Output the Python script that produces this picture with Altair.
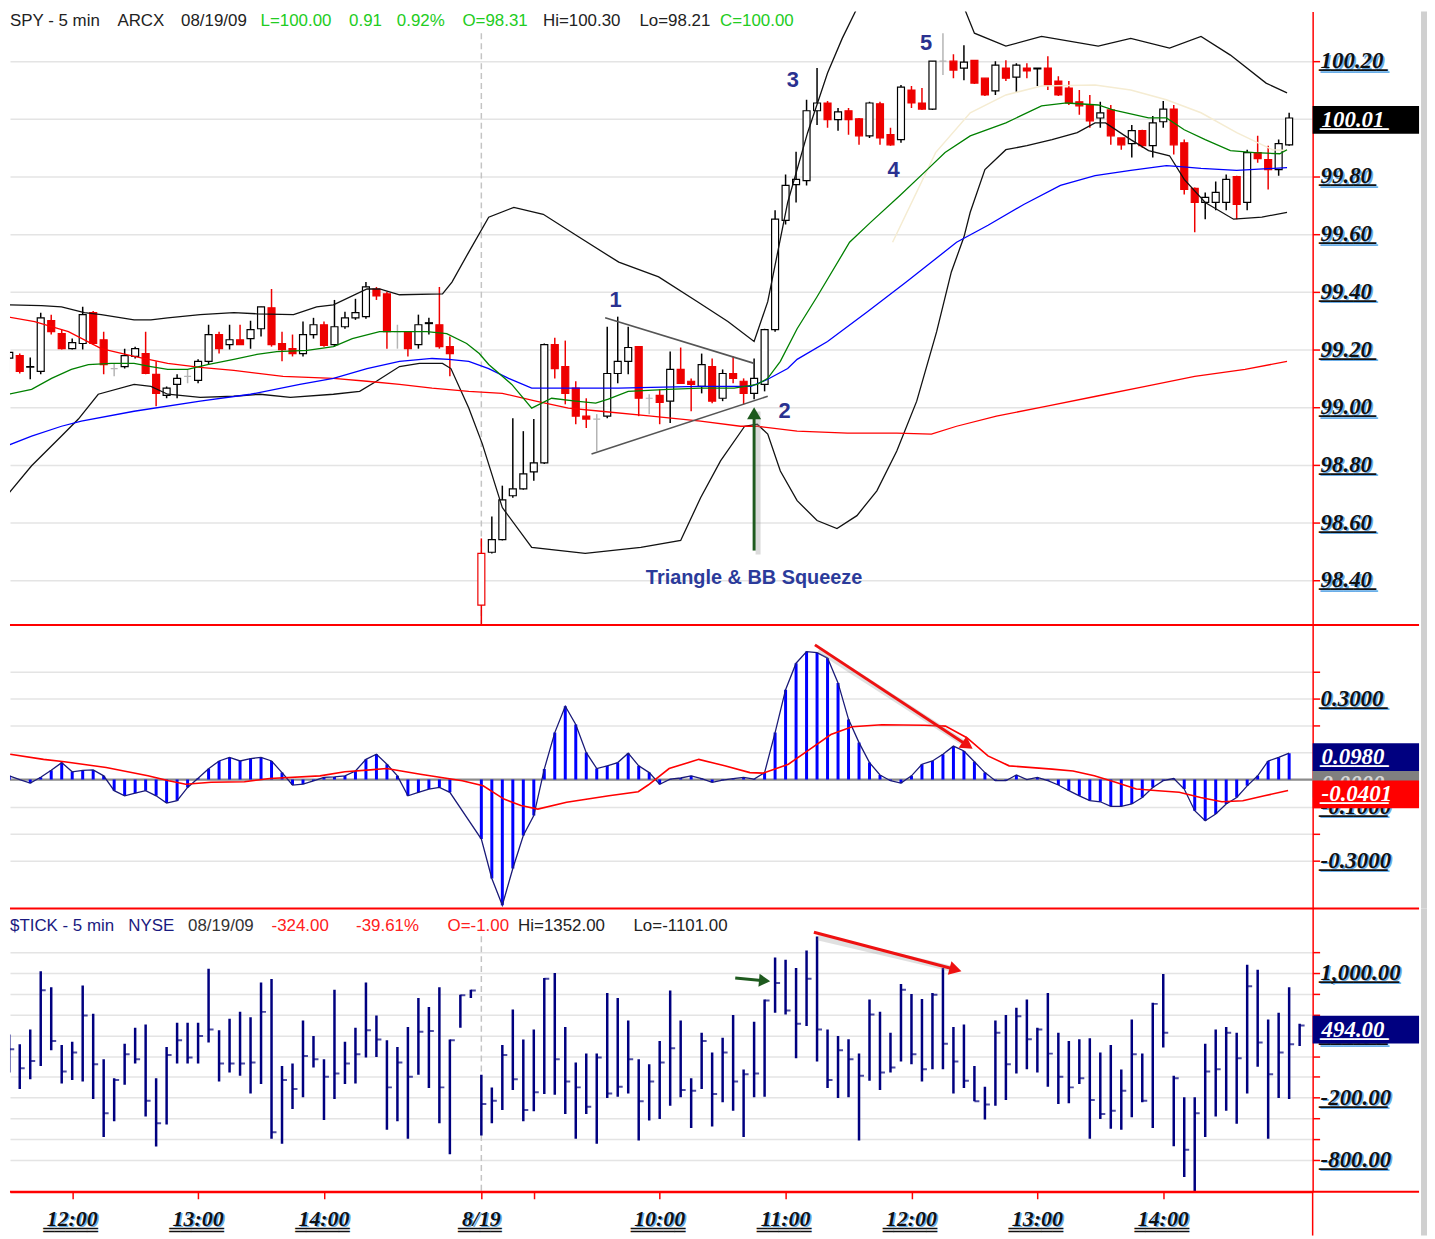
import altair as alt
import pandas as pd

# ---------------- data ----------------
# bar index: 0 = 11:30 on 08/18 ; 45 = first bar of 08/19 (08:35) ; 5-minute bars
bar_open = [99.17, 99.179, 99.139, 99.124, 99.30, 99.255, 99.203, 99.221, 99.328, 99.234,
            99.134, 99.141, 99.176, 99.186, 99.114, 99.041, 99.079, 99.107, 99.093, 99.159,
            99.252, 99.217, 99.234, 99.238, 99.272, 99.345, 99.221, 99.203, 99.186, 99.252,
            99.286, 99.217, 99.279, 99.31, 99.314, 99.41, 99.393, 99.262, 99.262, 99.217,
            99.29, 99.286, 99.21, None, None, 98.314, 98.497, 98.541, 98.693, 98.717,
            98.776, 98.807, 99.217, 99.141, 99.066, 98.969, 98.959, 98.969, 99.117, 99.159,
            99.21, 99.031, 99.041, 99.021, 99.131, 99.09, 99.072, 99.141, 99.031, 99.117,
            99.09, 99.048, 99.079, 99.269, 99.648, 99.772, 99.786, 100.028, 100.055, 99.997,
            100.028, 100.0, 99.941, 100.052, 99.945, 99.928, 100.10, 100.055, 100.034, 100.20,
            100.20, 100.176, 100.203, 100.141, 100.097, 100.176, 100.145, 100.176, 100.173, 100.176,
            100.131, 100.107, 100.059, 100.048, 100.003, 100.031, 99.934, 99.914, 99.959, 99.907,
            99.99, 100.034, 99.917, 99.759, 99.71, 99.71, 99.71, 99.80, 99.71, 99.883,
            99.859, 99.824, 99.91]
bar_high = [99.19, 99.186, 99.172, 99.328, 99.321, 99.269, 99.238, 99.348, 99.334, 99.262,
            99.152, 99.203, 99.21, 99.262, 99.159, 99.072, 99.114, 99.131, 99.166, 99.286,
            99.262, 99.286, 99.286, 99.30, 99.348, 99.41, 99.262, 99.252, 99.297, 99.31,
            99.297, 99.372, 99.331, 99.376, 99.434, 99.417, 99.40, 99.286, 99.262, 99.321,
            99.31, 99.417, 99.245, None, None, 98.545, 98.621, 98.728, 98.962, 98.917,
            98.959, 99.221, 99.241, 99.231, 99.09, 99.031, 98.976, 99.279, 99.314, 99.279,
            99.21, 99.045, 99.062, 99.193, 99.207, 99.10, 99.186, 99.169, 99.131, 99.176,
            99.10, 99.169, 99.272, 99.683, 99.807, 99.886, 100.066, 100.176, 100.062, 100.038,
            100.038, 100.003, 100.059, 100.059, 99.969, 100.117, 100.114, 100.107, 100.20, 100.297,
            100.224, 100.255, 100.203, 100.141, 100.20, 100.203, 100.193, 100.193, 100.176, 100.217,
            100.148, 100.131, 100.10, 100.083, 100.059, 100.048, 99.934, 99.979, 99.962, 100.01,
            100.062, 100.048, 99.928, 99.762, 99.745, 99.783, 99.807, 99.803, 99.893, 99.941,
            99.907, 99.928, 100.021]
bar_low = [99.12, 99.117, 99.097, 99.114, 99.252, 99.20, 99.20, 99.20, 99.217, 99.114,
           99.107, 99.134, 99.169, 99.114, 99.003, 99.031, 99.031, 99.083, 99.083, 99.148,
           99.186, 99.20, 99.217, 99.203, 99.245, 99.21, 99.159, 99.176, 99.176, 99.238,
           99.21, 99.21, 99.272, 99.303, 99.307, 99.372, 99.203, 99.203, 99.176, 99.203,
           99.252, 99.203, 99.107, None, None, 98.21, 98.493, 98.538, 98.686, 98.714,
           98.745, 98.803, 99.10, 99.01, 98.941, 98.928, 98.848, 98.962, 99.083, 99.114,
           98.969, 98.976, 98.941, 98.945, 99.083, 98.986, 99.048, 99.014, 99.021, 99.083,
           99.01, 99.028, 99.055, 99.262, 99.634, 99.71, 99.769, 99.979, 99.969, 99.959,
           99.945, 99.91, 99.934, 99.91, 99.907, 99.917, 100.038, 100.031, 100.031, 100.152,
           100.141, 100.134, 100.121, 100.079, 100.083, 100.131, 100.09, 100.141, 100.114, 100.10,
           100.079, 100.048, 100.014, 99.969, 99.969, 99.91, 99.893, 99.866, 99.90, 99.866,
           99.969, 99.876, 99.738, 99.607, 99.652, 99.683, 99.683, 99.652, 99.683, 99.848,
           99.755, 99.803, 99.907]
bar_close = [99.19, 99.124, 99.141, 99.31, 99.262, 99.203, 99.224, 99.321, 99.221, 99.148,
             99.134, 99.179, 99.203, 99.117, 99.048, 99.066, 99.10, 99.107, 99.159, 99.252,
             99.203, 99.234, 99.217, 99.269, 99.348, 99.217, 99.20, 99.186, 99.252, 99.286,
             99.214, 99.279, 99.31, 99.328, 99.417, 99.386, 99.262, 99.262, 99.203, 99.286,
             99.293, 99.21, 99.186, None, None, 98.493, 98.541, 98.679, 98.717, 98.769,
             98.807, 99.217, 99.134, 99.048, 98.969, 98.959, 98.959, 99.117, 99.159, 99.207,
             99.031, 99.031, 99.017, 99.131, 99.083, 99.079, 99.148, 99.021, 99.117, 99.10,
             99.048, 99.10, 99.269, 99.652, 99.769, 99.79, 100.028, 100.055, 99.997, 100.024,
             99.997, 99.941, 100.055, 99.934, 99.91, 100.11, 100.055, 100.034, 100.20, 100.20,
             100.169, 100.197, 100.124, 100.083, 100.186, 100.141, 100.186, 100.166, 100.176, 100.117,
             100.083, 100.055, 100.045, 99.993, 100.021, 99.941, 99.91, 99.959, 99.907, 99.986,
             100.034, 99.91, 99.755, 99.71, 99.728, 99.745, 99.79, 99.703, 99.883, 99.862,
             99.824, 99.914, 100.003]

# Bollinger bands and moving averages: (bar index, price) readings
bb_up_i = [0.05, 3.08, 4.98, 7.16, 8.77, 11.9, 13.5, 15.1, 18.2, 21.4, 23.6, 27.1, 29.3, 30.9,
           34.1, 35.3, 37.2, 41.3, 42.2, 43.8, 45.7, 48.1, 50.9, 54.3, 58.1, 61.9, 65.6, 68.5,
           71.0, 72.3, 74.2, 76.1, 78.0, 79.4, 80.8, 83.7, 87.4, 90.3, 92.0, 95.0, 98.4, 103.8,
           106.9, 110.6, 113.6, 116.4, 119.8, 121.8]
bb_up_v = [99.355, 99.352, 99.348, 99.328, 99.321, 99.303, 99.303, 99.31, 99.321, 99.328, 99.324,
           99.321, 99.348, 99.355, 99.41, 99.41, 99.39, 99.393, 99.434, 99.538, 99.659, 99.693,
           99.669, 99.59, 99.503, 99.452, 99.366, 99.297, 99.228, 99.366, 99.71, 99.952, 100.159,
           100.279, 100.383, 100.55, 100.60, 100.45, 100.297, 100.252, 100.286, 100.252, 100.279,
           100.245, 100.286, 100.221, 100.124, 100.09]
bb_lo_i = [-0.24, 2.13, 4.98, 6.59, 8.48, 11.9, 13.5, 15.1, 18.2, 21.4, 23.9, 26.8, 30.9, 33.4,
           35.0, 37.2, 39.1, 41.3, 42.1, 43.8, 45.1, 47.0, 49.8, 54.9, 60.2, 64.0, 65.9, 67.8,
           70.1, 71.3, 72.3, 73.5, 75.1, 77.0, 78.9, 80.8, 82.7, 84.6, 86.5, 88.4, 89.8, 91.0,
           91.6, 93.0, 95.0, 97.0, 99.4, 101.8, 103.5, 104.5, 106.9, 108.6, 110.6, 112.0, 114.0,
           116.7, 119.4, 121.8]
bb_lo_v = [98.693, 98.797, 98.90, 98.959, 99.045, 99.079, 99.072, 99.045, 99.034, 99.038, 99.045,
           99.034, 99.045, 99.055, 99.09, 99.141, 99.152, 99.152, 99.134, 98.997, 98.872, 98.652,
           98.514, 98.493, 98.514, 98.538, 98.686, 98.814, 98.934, 98.941, 98.907, 98.779, 98.676,
           98.607, 98.579, 98.624, 98.71, 98.848, 99.021, 99.262, 99.469, 99.59, 99.676, 99.824,
           99.893, 99.907, 99.928, 99.952, 99.986, 99.986, 99.928, 99.89, 99.872, 99.79, 99.71,
           99.652, 99.659, 99.676]
ma_green_i = [-0.05, 2.13, 4.03, 5.92, 7.54, 9.72, 11.9, 13.5, 15.1, 17.0, 18.9, 21.4, 23.6, 25.5,
              28.4, 30.9, 32.7, 35.3, 37.2, 39.8, 41.7, 43.6, 44.8, 45.7, 47.9, 49.8, 51.7, 54.0,
              55.9, 57.1, 59.0, 62.8, 65.9, 69.1, 71.3, 72.3, 73.5, 75.1, 77.0, 80.1, 82.1, 84.9,
              87.5, 89.2, 91.6, 95.0, 98.4, 100.8, 103.8, 105.2, 108.6, 110.3, 112.0, 114.0, 116.4,
              118.7, 121.1, 121.8]
ma_green_v = [99.045, 99.062, 99.10, 99.131, 99.148, 99.152, 99.152, 99.141, 99.131, 99.131, 99.148,
              99.166, 99.183, 99.193, 99.197, 99.21, 99.238, 99.262, 99.262, 99.262, 99.255, 99.221,
              99.186, 99.148, 99.079, 98.997, 99.031, 99.021, 99.014, 99.028, 99.055, 99.062, 99.066,
              99.066, 99.079, 99.10, 99.159, 99.272, 99.383, 99.572, 99.641, 99.734, 99.824, 99.883,
              99.941, 99.986, 100.045, 100.055, 100.048, 100.031, 100.003, 100.003, 99.962, 99.928,
              99.89, 99.883, 99.879, 99.893]
ma_blue_i = [-0.24, 2.13, 4.98, 6.87, 11.9, 18.2, 23.0, 27.7, 30.9, 34.1, 37.2, 40.3, 41.9, 43.8,
             45.7, 47.6, 49.8, 53.3, 58.1, 61.2, 65.9, 70.7, 72.3, 74.2, 75.1, 78.0, 81.8, 85.5,
             90.3, 93.3, 96.7, 100.2, 103.5, 106.9, 110.3, 111.6, 113.6, 117.0, 121.8]
ma_blue_v = [98.866, 98.90, 98.934, 98.952, 98.986, 99.021, 99.045, 99.079, 99.10, 99.134, 99.159,
             99.169, 99.166, 99.159, 99.134, 99.10, 99.066, 99.066, 99.066, 99.069, 99.072, 99.072,
             99.097, 99.134, 99.166, 99.228, 99.331, 99.434, 99.572, 99.631, 99.703, 99.769, 99.803,
             99.821, 99.838, 99.834, 99.828, 99.821, 99.831]
ma_red_i = [-0.24, 2.42, 5.64, 8.77, 11.9, 15.1, 18.2, 21.4, 26.1, 30.9, 34.1, 37.2, 40.3, 43.8,
            47.0, 50.2, 53.3, 56.4, 61.2, 65.9, 69.7, 71.3, 75.1, 79.9, 84.6, 87.9, 90.3, 94.1,
            98.8, 103.6, 108.3, 113.0, 117.8, 121.8]
ma_red_v = [99.314, 99.297, 99.262, 99.203, 99.176, 99.152, 99.138, 99.128, 99.107, 99.10, 99.09,
            99.079, 99.066, 99.055, 99.048, 99.021, 98.997, 98.986, 98.969, 98.952, 98.934, 98.934,
            98.917, 98.91, 98.91, 98.907, 98.934, 98.969, 99.003, 99.038, 99.072, 99.107, 99.131,
            99.159]
ma_pale_i = [84.2, 88.3, 91.6, 95.0, 98.4, 103.5, 106.9, 110.3, 113.6, 117.0, 120.4, 121.8]
ma_pale_v = [99.572, 99.883, 100.021, 100.083, 100.114, 100.117, 100.10, 100.066, 100.021, 99.952,
             99.893, 99.89]

# oscillator histogram (one value per bar; none for the two after-hours bars)
osc_hist = [0.014, 0.0, -0.013, 0.009, 0.035, 0.063, 0.029, 0.034, 0.036, 0.014,
            -0.041, -0.06, -0.05, -0.041, -0.06, -0.087, -0.078, -0.029, 0.005, 0.04,
            0.069, 0.082, 0.069, 0.078, 0.082, 0.069, 0.026, -0.02, -0.017, -0.005,
            0.008, 0.01, 0.014, 0.032, 0.075, 0.094, 0.057, 0.014, -0.06, -0.047,
            -0.035, -0.029, -0.047, None, None, -0.22, -0.366, -0.465, -0.329, -0.207,
            -0.133, 0.039, 0.174, 0.272, 0.204, 0.10, 0.041, 0.051, 0.063, 0.098,
            0.051, 0.026, -0.017, 0.002, 0.006, 0.014, 0.004, -0.01, -0.002, 0.004,
            0.008, 0.002, 0.026, 0.174, 0.333, 0.431, 0.474, 0.47, 0.45, 0.358,
            0.223, 0.137, 0.063, 0.017, -0.004, -0.013, 0.014, 0.057, 0.069, 0.094,
            0.124, 0.106, 0.066, 0.026, -0.004, -0.004, 0.017, 0.0, 0.008, -0.004,
            -0.02, -0.041, -0.06, -0.078, -0.082, -0.099, -0.099, -0.09, -0.066, -0.029,
            -0.004, 0.004, -0.035, -0.115, -0.152, -0.127, -0.09, -0.066, -0.023, 0.014,
            0.069, 0.082, 0.098]
osc_sig_i = [0.09, 3.27, 5.26, 9.24, 13.22, 15.2, 16.82, 19.24, 22.42, 24.83, 29.62, 31.99, 34.41,
             35.97, 39.19, 43.18, 45.17, 47.16, 48.77, 50.38, 53.13, 57.16, 59.95, 60.9, 62.9,
             65.73, 68.2, 70.6, 71.84, 74.27, 76.3, 78.32, 80.33, 83.18, 87.23, 89.24, 91.28,
             93.29, 95.31, 99.4, 101.4, 103.43, 105.45, 107.44, 109.53, 111.52, 113.56, 115.59,
             117.58, 119.64, 121.9]
osc_sig_v = [0.094, 0.075, 0.066, 0.045, 0.014, -0.004, -0.017, -0.01, -0.008, 0.004, 0.014, 0.029,
             0.036, 0.041, 0.02, -0.004, -0.023, -0.072, -0.096, -0.109, -0.084, -0.06, -0.045,
             -0.02, 0.041, 0.075, 0.051, 0.026, 0.024, 0.057, 0.112, 0.167, 0.196, 0.203, 0.201,
             0.198, 0.155, 0.088, 0.051, 0.039, 0.032, 0.014, -0.01, -0.035, -0.041, -0.047,
             -0.066, -0.082, -0.078, -0.06, -0.0401]

# $TICK bars (bar index 0..123)
tick_high = [409, 314, 457, 1016, 863, 307, 339, 879, 607, 170, -12, 320, 473, 505, -12, 288,
             521, 521, 521, 1041, 448, 559, 626, 575, 910, 942, 106, 128, 543, 393, 170, 840,
             339, 473, 910, 591, 352, 288, 480, 760, 674, 863, 361, 792, 840, 20, -101, 307,
             649, 361, 457, 952, 1000, 480, 138, 224, 224, 808, 760, 543, 170, 122, 346, 831,
             544, -12, 425, 234, 377, 595, 72, 531, 745, 1150, 1128, 1048, 1217, 1351, 457, 393,
             362, 224, 745, 626, 425, 895, 799, 751, 808, 1048, 480, 505, 106, -95, 544, 595,
             665, 745, 473, 808, 425, 346, 362, 371, 234, 307, 72, 553, 224, 713, 990, 10,
             -197, -197, 320, 457, 480, 425, 1080, 1032, 553, 617, 863, 512]
tick_low = [42, -117, -22, 106, 256, -63, -31, -44, -213, -580, -427, -76, 128, -382, -670, -459,
            128, 128, 128, 330, -44, 42, 10, -159, -69, -596, -644, -309, -197, 90, -414, -213,
            -69, -63, 186, 192, -510, -427, -596, 20, -108, -446, -746, 473, 760, -564, -446,
            -318, -127, -427, -331, -165, -172, -357, -596, -357, -644, -204, -191, -159, -612,
            -421, -405, -277, -197, -491, -117, -478, -245, -325, -580, -197, -191, 617, 601, 180,
            489, 148, -108, -203, -197, -612, -37, -127, 42, 148, 122, -44, 74, 74, -159, -108,
            -235, -411, -277, -223, 33, 74, 42, -95, -261, -255, -69, -596, -405, -500, -510,
            -389, -245, -491, 282, -669, -963, -1101, -580, -382, -325, -452, -159, 97, -596,
            -203, -213, 298]
tick_close = [266, 84, 154, 834, 345, 52, 234, 591, 122, -350, -31, 218, 170, -229, -446, 211,
              352, 186, 393, 457, 128, 128, 128, 138, 626, -532, -31, -117, 202, 170, 1, 33,
              128, 218, 448, 361, -101, 138, 1, 435, 441, -101, 352, 786, 831, -261, -229, 211,
              -22, -318, -149, 946, 170, -44, -101, -287, 186, -159, -95, 170, -235, -44, 138,
              275, -127, -133, 346, -165, 234, -44, 26, 33, 735, 904, 639, 512, 946, 457, -31,
              256, 170, 10, 601, 42, 90, 840, 218, 74, 792, 320, 148, -37, -235, -267, 425, 122,
              585, 362, 457, 224, 1, -101, -12, -223, -357, -325, -133, 218, -229, 703, 425, -12,
              -701, -350, 52, 74, 425, 180, 872, 330, 26, 234, 314, 494]

x_tick_pos = [6, 18, 30, 45, 50, 62, 74, 86, 98, 110]
x_tick_lab = ["12:00", "13:00", "14:00", "8/19", "", "10:00", "11:00", "12:00", "13:00", "14:00"]
price_ticks = [98.4, 98.6, 98.8, 99.0, 99.2, 99.4, 99.6, 99.8, 100.0, 100.2]
osc_grid = [-0.3, -0.2, -0.1, 0.0, 0.1, 0.2, 0.3, 0.4]
osc_label_vals = [0.3, 0.1, -0.1, -0.3]
tick_grid = [-800, -600, -400, -200, 0, 200, 400, 600, 800, 1000, 1200]
tick_label_vals = [1000, 400, -200, -800]
day_start = 45

# annotations
tri_i, tri_i2 = [56.8, 55.5], [71.0, 72.3]
tri_v, tri_v2 = [99.310, 98.838], [99.152, 99.038]
wave_txt = ["1", "2", "3", "4", "5"]
wave_i = [57.8, 73.9, 74.7, 84.3, 87.4]
wave_v = [99.372, 98.986, 100.134, 99.824, 100.262]
squeeze_txt = "Triangle & BB Squeeze"
squeeze_at = (71.0, 98.407)
last_price = 100.01
last_osc = 0.0980
last_sig = -0.0401
last_tick = 494.0

# ---------------- chart ----------------
W = 1310
H1, H2, H3 = 617, 285, 285
RED = "#ff0000"
SERIF = "Liberation Serif"
SANS = "Liberation Sans"
LFS = 23  # axis label font size
SHADOW = "#6aaee8"

XS = alt.Scale(domain=[0.07, 124.24], nice=False, zero=False, padding=0)
PS = alt.Scale(domain=[98.2448, 100.3724], nice=False, zero=False, padding=0)
MS = alt.Scale(domain=[-0.4767, 0.5724], nice=False, zero=False, padding=0)
TS = alt.Scale(domain=[-1106.5, 1622.4], nice=False, zero=False, padding=0)


def yaxis(vals):
    return alt.Axis(orient="right", values=vals, labels=False, ticks=True, tickColor=RED,
                    tickSize=7, tickWidth=1.5, domain=True, domainColor=RED, domainWidth=1.5,
                    grid=True, gridColor="#e4e4e4", gridWidth=1.5, title=None)


PA, MA, TA = yaxis(price_ticks), yaxis(osc_grid), yaxis(tick_grid)
XA_bottom = alt.Axis(values=x_tick_pos, labels=False, ticks=True, tickColor=RED, tickSize=7,
                     tickWidth=1.5, domainColor=RED, domainWidth=2, grid=False, title=None)


def X(f="i", bottom=False):
    return alt.X(f"{f}:Q", scale=XS, axis=XA_bottom if bottom else None)


def PY(f):
    return alt.Y(f"{f}:Q", scale=PS, axis=PA)


def MY(f):
    return alt.Y(f"{f}:Q", scale=MS, axis=MA)


def TY(f):
    return alt.Y(f"{f}:Q", scale=TS, axis=TA)


dummy = pd.DataFrame({"a": [0]})


def htext(txt, x, y, color, size=17, font=SANS, weight="normal"):
    return alt.Chart(dummy).mark_text(text=txt, align="left", baseline="middle", font=font,
                                      fontSize=size, color=color, fontWeight=weight).encode(
        x=alt.value(x), y=alt.value(y))


def und_of(s):
    n = sum(c.isdigit() for c in s) + 0.5 * sum(c in ".,:/" for c in s) + 0.67 * s.count("-")
    return "_" * int(n + 0.5)


LBL = dict(baseline="middle", font=SERIF, fontStyle="italic", fontWeight="bold", fontSize=LFS)


def label_layers(vals, fmt, YF):
    df = pd.DataFrame({"v": vals})
    df["lab"] = [fmt(v) for v in vals]
    df["und"] = [und_of(s) for s in df["lab"]]
    out = []
    for col in ("lab", "und"):
        out.append(alt.Chart(df).mark_text(align="left", color=SHADOW, dx=1.5, dy=1.5, **LBL).encode(
            x=alt.value(W + 8), y=YF("v"), text=f"{col}:N"))
    for col in ("lab", "und"):
        out.append(alt.Chart(df).mark_text(align="left", color="#111111", **LBL).encode(
            x=alt.value(W + 8), y=YF("v"), text=f"{col}:N"))
    return out


def value_box(val, txt, fill, YF, tcolor="white"):
    df = pd.DataFrame({"v": [val], "lab": [txt], "und": [und_of(txt)]})
    box = alt.Chart(df).mark_rect(color=fill, yOffset=-10, y2Offset=18).encode(
        x=alt.value(W), x2=alt.value(W + 107), y=YF("v"), y2=alt.Y2("v"))
    t = alt.Chart(df).mark_text(align="left", color=tcolor, dy=4, **LBL).encode(
        x=alt.value(W + 9), y=YF("v"), text="lab:N")
    u = alt.Chart(df).mark_text(align="left", color=tcolor, dy=4, **LBL).encode(
        x=alt.value(W + 9), y=YF("v"), text="und:N")
    return [box, t, u]


def sep_rules(H, extra=0):
    r1 = alt.Chart(dummy).mark_rect(color=RED).encode(
        x=alt.value(0), x2=alt.value(W + 107), y=alt.value(H - 1), y2=alt.value(H + 1))
    r2 = alt.Chart(dummy).mark_rect(color="#d0d0d0").encode(
        x=alt.value(W + 109), x2=alt.value(W + 115), y=alt.value(0), y2=alt.value(H + extra))
    return [r1, r2]


# ---- price panel ----
idx = list(range(len(bar_open)))
cdf = pd.DataFrame({"i": idx, "open": bar_open, "high": bar_high, "low": bar_low, "close": bar_close})
cdf["pc"] = cdf["close"].ffill().shift(1)
cdf = cdf.dropna(subset=["open"]).reset_index(drop=True)


def kind(r):
    if r["close"] > r["open"]:
        return "weak" if (pd.notna(r["pc"]) and r["close"] < r["pc"]) else "up"
    if r["close"] < r["open"]:
        return "down"
    return "flat"


cdf["kind"] = cdf.apply(kind, axis=1)
kinds = ["up", "weak", "down", "flat"]
fill_sc = alt.Scale(domain=kinds, range=["#ffffff", "#ffffff", "#ee0000", "#b4b4b4"])
line_sc = alt.Scale(domain=kinds, range=["#000000", "#ee0000", "#ee0000", "#b4b4b4"])

sep_df = pd.DataFrame({"i": [day_start]})
sep_price = alt.Chart(sep_df).mark_rule(color="#c4c4c4", strokeDash=[6, 4], strokeWidth=1.5).encode(
    x=X(), y=alt.value(22), y2=alt.value(H1))

wicks = alt.Chart(cdf).mark_rule(strokeWidth=1.5, clip=True).encode(
    x=X(), y=PY("low"), y2=alt.Y2("high"),
    color=alt.Color("kind:N", scale=line_sc, legend=None))
bodies = alt.Chart(cdf).mark_bar(size=7, strokeWidth=1.2, clip=True).encode(
    x=X(), y=PY("open"), y2=alt.Y2("close"),
    fill=alt.Fill("kind:N", scale=fill_sc, legend=None),
    stroke=alt.Stroke("kind:N", scale=line_sc, legend=None))


def pline(ii, vv, color, w=1.3):
    df = pd.DataFrame({"i": ii, "v": vv})
    return alt.Chart(df).mark_line(color=color, strokeWidth=w, clip=True).encode(x=X(), y=PY("v"))


lines = [pline(ma_pale_i, ma_pale_v, "#f5ecd2", 1.5), pline(bb_up_i, bb_up_v, "#111111"),
         pline(bb_lo_i, bb_lo_v, "#111111"), pline(ma_red_i, ma_red_v, "#ff0000"),
         pline(ma_blue_i, ma_blue_v, "#0000ff"), pline(ma_green_i, ma_green_v, "#008000")]

tri_df = pd.DataFrame({"i": tri_i, "i2": tri_i2, "v": tri_v, "v2": tri_v2})
tri = alt.Chart(tri_df).mark_rule(color="#555555", strokeWidth=1.6).encode(
    x=X(), x2=alt.X2("i2"), y=PY("v"), y2=alt.Y2("v2"))

ga_df = pd.DataFrame({"i": [71.0], "v": [98.503], "v2": [98.985]})
ga_sh = alt.Chart(ga_df).mark_rule(color="#999999", strokeWidth=5, opacity=0.35, xOffset=4, yOffset=4).encode(
    x=X(), y=PY("v"), y2=alt.Y2("v2"))
ga = alt.Chart(ga_df).mark_rule(color="#1e5a1e", strokeWidth=3).encode(x=X(), y=PY("v"), y2=alt.Y2("v2"))
gh_df = pd.DataFrame({"i": [71.0], "v": [98.979]})
gh = alt.Chart(gh_df).mark_point(shape="triangle-up", filled=True, size=200, color="#1e5a1e", opacity=1).encode(
    x=X(), y=PY("v"))

wave_df = pd.DataFrame({"i": wave_i, "v": wave_v, "t": wave_txt})
waves = alt.Chart(wave_df).mark_text(font=SANS, fontSize=22, fontWeight="bold", color="#2a3190").encode(
    x=X(), y=PY("v"), text="t:N")
sq_df = pd.DataFrame({"i": [squeeze_at[0]], "v": [squeeze_at[1]], "t": [squeeze_txt]})
sq = alt.Chart(sq_df).mark_text(font=SANS, fontSize=20, fontWeight="bold", color="#2b3b9b").encode(
    x=X(), y=PY("v"), text="t:N")

header = [
    htext("SPY - 5 min", 0, 10, "#222222"), htext("ARCX", 108, 10, "#222222"),
    htext("08/19/09", 172, 10, "#222222"), htext("L=100.00", 252, 10, "#22cc22"),
    htext("0.91", 341, 10, "#22cc22"), htext("0.92%", 389, 10, "#22cc22"),
    htext("O=98.31", 455, 10, "#22cc22"), htext("Hi=100.30", 536, 10, "#222222"),
    htext("Lo=98.21", 633, 10, "#222222"), htext("C=100.00", 714, 10, "#22cc22"),
]

top = alt.layer(
    sep_price, wicks, bodies, *lines, tri, ga_sh, ga, gh, waves, sq, *header,
    *label_layers(price_ticks, lambda v: f"{v:.2f}", PY),
    *value_box(last_price, f"{last_price:.2f}", "#000000", PY),
    *sep_rules(H1),
).properties(width=W, height=H1)

# ---- oscillator panel ----
mdf = pd.DataFrame({"i": idx, "m": osc_hist}).dropna().reset_index(drop=True)
zero = alt.Chart(pd.DataFrame({"v": [0.0]})).mark_rule(color="#8c8c8c", strokeWidth=2.5).encode(y=MY("v"))
hist = alt.Chart(mdf).mark_bar(size=3, color="#0000ff", clip=True).encode(x=X(), y=MY("m"), y2=alt.datum(0))
hline = alt.Chart(mdf).mark_line(color="#1a1a78", strokeWidth=1.3, clip=True).encode(x=X(), y=MY("m"))
sdf = pd.DataFrame({"i": osc_sig_i, "v": osc_sig_v})
sig = alt.Chart(sdf).mark_line(color="#ff0000", strokeWidth=1.6, clip=True).encode(x=X(), y=MY("v"))

ra_df = pd.DataFrame({"i": [76.8], "i2": [91.35], "v": [0.4988], "v2": [0.1266]})
ra_sh = alt.Chart(ra_df).mark_rule(color="#999999", strokeWidth=6, opacity=0.3, xOffset=4, yOffset=5).encode(
    x=X(), x2=alt.X2("i2"), y=MY("v"), y2=alt.Y2("v2"))
ra = alt.Chart(ra_df).mark_rule(color="#ee1111", strokeWidth=3).encode(
    x=X(), x2=alt.X2("i2"), y=MY("v"), y2=alt.Y2("v2"))
rh = alt.Chart(pd.DataFrame({"i": [91.35], "v": [0.1266]})).mark_point(
    shape="triangle-right", angle=34, filled=True, size=200, color="#ee1111", opacity=1).encode(x=X(), y=MY("v"))

mid = alt.layer(
    zero, hist, hline, sig, ra_sh, ra, rh,
    *label_layers(osc_label_vals, lambda v: f"{v:.4f}", MY),
    *value_box(0.0, "0.0000", "#808080", MY, tcolor="#d8d8d8"),
    *value_box(last_osc, f"{last_osc:.4f}", "#000080", MY),
    *value_box(last_sig, f"{last_sig:.4f}", "#ff0000", MY),
    *sep_rules(H2),
).properties(width=W, height=H2)

# ---- $TICK panel ----
tdf = pd.DataFrame({"i": list(range(len(tick_high))), "hi": tick_high, "lo": tick_low, "c": tick_close})
sep_tick = alt.Chart(sep_df).mark_rule(color="#c4c4c4", strokeDash=[6, 4], strokeWidth=1.5).encode(
    x=X(bottom=True), y=alt.value(28), y2=alt.value(H3))
tbars = alt.Chart(tdf).mark_rule(color="#00007f", strokeWidth=2.5, clip=True).encode(
    x=X(bottom=True), y=TY("lo"), y2=alt.Y2("hi"))
tcl = alt.Chart(tdf).mark_tick(orient="horizontal", size=5, thickness=2, xOffset=2.5,
                               color="#00007f", clip=True).encode(x=X(bottom=True), y=TY("c"))

tra_df = pd.DataFrame({"i": [76.7], "i2": [90.2], "v": [1392.6], "v2": [1033.5]})
tra_sh = alt.Chart(tra_df).mark_rule(color="#999999", strokeWidth=6, opacity=0.3, xOffset=4, yOffset=5).encode(
    x=X(bottom=True), x2=alt.X2("i2"), y=TY("v"), y2=alt.Y2("v2"))
tra = alt.Chart(tra_df).mark_rule(color="#ee1111", strokeWidth=3).encode(
    x=X(bottom=True), x2=alt.X2("i2"), y=TY("v"), y2=alt.Y2("v2"))
trh = alt.Chart(pd.DataFrame({"i": [90.2], "v": [1033.5]})).mark_point(
    shape="triangle-right", angle=15, filled=True, size=200, color="#ee1111", opacity=1).encode(
    x=X(bottom=True), y=TY("v"))
tga_df = pd.DataFrame({"i": [69.2], "i2": [72.0], "v": [952.0], "v2": [926.0]})
tga = alt.Chart(tga_df).mark_rule(color="#1e5a1e", strokeWidth=3).encode(
    x=X(bottom=True), x2=alt.X2("i2"), y=TY("v"), y2=alt.Y2("v2"))
tgh = alt.Chart(pd.DataFrame({"i": [72.0], "v": [926.0]})).mark_point(
    shape="triangle-right", angle=5, filled=True, size=170, color="#1e5a1e", opacity=1).encode(
    x=X(bottom=True), y=TY("v"))

theader = [
    htext("$TICK - 5 min", 0, 18, "#1a1a80"), htext("NYSE", 119, 18, "#1a1a80"),
    htext("08/19/09", 179, 18, "#333333"), htext("-324.00", 263, 18, "#ff2020"),
    htext("-39.61%", 348, 18, "#ff2020"), htext("O=-1.00", 440, 18, "#ff2020"),
    htext("Hi=1352.00", 511, 18, "#222222"), htext("Lo=-1101.00", 627, 18, "#222222"),
]

xl_df = pd.DataFrame({"i": x_tick_pos, "lab": x_tick_lab})
xl_df["und"] = [und_of(s) for s in xl_df["lab"]]
xbase = dict(align="center", baseline="middle", font=SERIF, fontStyle="italic", fontWeight="bold", fontSize=22)
xlab = []
xlab.append(alt.Chart(xl_df).mark_text(color=SHADOW, dx=1.5, dy=1.5, **xbase).encode(
    x=X(bottom=True), y=alt.value(H3 + 27), text="lab:N"))
xlab.append(alt.Chart(xl_df).mark_text(color="#111111", **xbase).encode(
    x=X(bottom=True), y=alt.value(H3 + 27), text="lab:N"))
xlab.append(alt.Chart(xl_df).mark_text(color="#111111", **xbase).encode(
    x=X(bottom=True), y=alt.value(H3 + 27), text="und:N"))
xlab.append(alt.Chart(xl_df).mark_text(color="#111111", dy=3, **xbase).encode(
    x=X(bottom=True), y=alt.value(H3 + 27), text="und:N"))
axis_ext = alt.Chart(dummy).mark_rule(color=RED, strokeWidth=1.5).encode(
    x=alt.value(W), y=alt.value(H3), y2=alt.value(H3 + 44))

bot = alt.layer(
    sep_tick, tbars, tcl, tra_sh, tra, trh, tga, tgh, *theader,
    *label_layers(tick_label_vals, lambda v: f"{v:,.2f}", TY),
    *value_box(last_tick, f"{last_tick:.2f}", "#000080", TY),
    *xlab, axis_ext, *sep_rules(H3, extra=44),
).properties(width=W, height=H3)

chart = alt.vconcat(top, mid, bot, spacing=0, bounds="flush").properties(
    padding=0, background="white"
).configure_view(stroke=None)

chart.save("out.html", embed_options={"renderer": "svg", "actions": False})
